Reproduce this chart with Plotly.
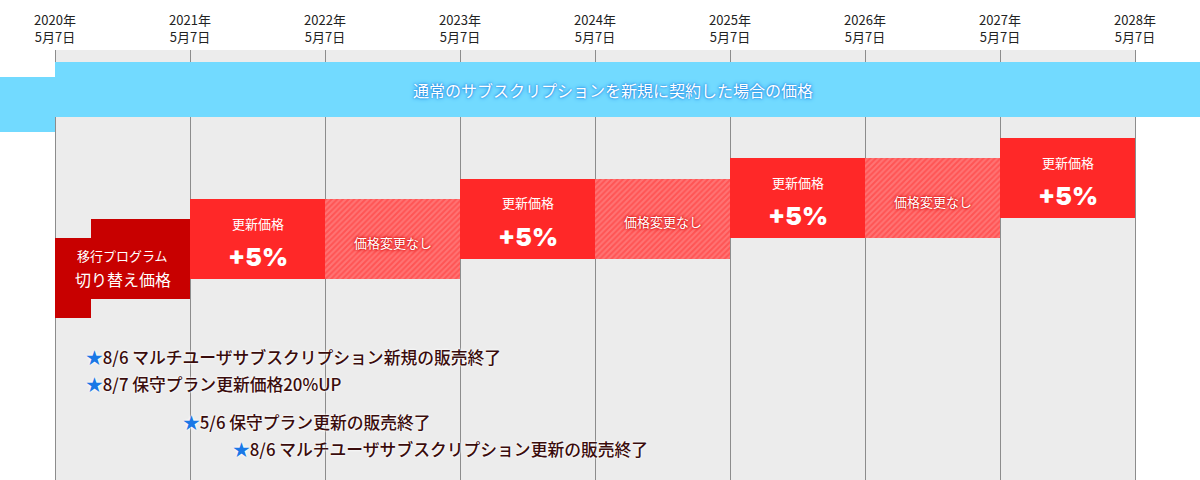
import plotly.graph_objects as go

# ---- data ----
tick_years = ["2020年", "2021年", "2022年", "2023年", "2024年", "2025年", "2026年", "2027年", "2028年"]
tick_day = "5月7日"

# periods (years after 2020-05-07), price step level for each period
renew_start = [1, 3, 5, 7]
renew_level = [1, 2, 3, 4]
renew_label = ["更新価格", "更新価格", "更新価格", "更新価格"]
renew_value = ["+5%", "+5%", "+5%", "+5%"]

same_start = [2, 4, 6]
same_level = [1, 2, 3]
same_label = ["価格変更なし", "価格変更なし", "価格変更なし"]

# migration program: two steps (before / after 8/7 maintenance +20%)
migr_start = [0.0, 0.2667]
migr_end = [0.2667, 1.0]
migr_level = [-0.9, 0.0]
migr_text = ["移行プログラム", "切り替え価格"]

# normal new subscription price band
band_start = [-0.4074, 0.0]
band_end = [0.0, 8.4815]
band_level = [7.62, 8.35]
band_text = "通常のサブスクリプションを新規に契約した場合の価格"

notes = [
    "8/6 マルチユーザサブスクリプション新規の販売終了",
    "8/7 保守プラン更新価格20%UP",
    "5/6 保守プラン更新の販売終了",
    "8/6 マルチユーザサブスクリプション更新の販売終了",
]
note_x = [0.215, 0.215, 0.93, 1.305]
note_level = [-4.8, -6.15, -8.0, -9.32]

# ---- geometry helpers ----
PX = 20.33              # px per price level
HALF = 40 / PX          # half box height in levels
BAND_HALF = 27.5 / PX
YTOP, YBOT = (259.33 - 50) / PX, (259.33 - 480) / PX

FONT = "Noto Sans CJK JP"
RENEW = "#ff2828"
DARK = "#c80000"

fig = go.Figure()

# grey background area of the timeline
fig.add_shape(type="rect", xref="x", yref="paper", x0=0, x1=8, y0=0, y1=1,
              fillcolor="#ececec", line_width=0, layer="below")

# blue band
fig.add_trace(go.Bar(
    x=[(a + b) / 2 for a, b in zip(band_start, band_end)],
    width=[b - a for a, b in zip(band_start, band_end)],
    base=[l - BAND_HALF for l in band_level],
    y=[2 * BAND_HALF] * len(band_level),
    marker=dict(color="#72daff", line_width=0), hoverinfo="skip"))

# migration
fig.add_trace(go.Bar(
    x=[(a + b) / 2 for a, b in zip(migr_start, migr_end)],
    width=[b - a for a, b in zip(migr_start, migr_end)],
    base=[l - HALF for l in migr_level],
    y=[2 * HALF] * len(migr_level),
    marker=dict(color=DARK, line_width=0), hoverinfo="skip"))

# renew boxes
fig.add_trace(go.Bar(
    x=[s + 0.5 for s in renew_start], width=[1] * len(renew_start),
    base=[l - HALF for l in renew_level], y=[2 * HALF] * len(renew_level),
    marker=dict(color=RENEW, line_width=0), hoverinfo="skip"))

# unchanged (hatched) boxes
fig.add_trace(go.Bar(
    x=[s + 0.5 for s in same_start], width=[1] * len(same_start),
    base=[l - HALF for l in same_level], y=[2 * HALF] * len(same_level),
    marker=dict(color="#ff6c6c", line_width=0,
                pattern=dict(shape="/", fgcolor="#ff3434", bgcolor="#ff7474",
                             size=4, solidity=0.5)),
    hoverinfo="skip"))

ann = []
# band text
ann.append(dict(x=(613 - 55) / 135, y=band_level[1], text=band_text,
                showarrow=False, font=dict(family=FONT, size=16, color="white",
                                           shadow="0px 0px 4px #1a80e0, 0px 0px 2px #1a80e0")))
# migration texts
mx = 0.5
ann.append(dict(x=mx, y=0.2, text=migr_text[0], showarrow=False,
                font=dict(family=FONT, size=13, color="white")))
ann.append(dict(x=mx, y=-0.95, text=migr_text[1], showarrow=False,
                font=dict(family=FONT, size=16, color="white")))
for s, l, t1, t2 in zip(renew_start, renew_level, renew_label, renew_value):
    ann.append(dict(x=s + 0.5, y=l + 16 / PX, text=t1, showarrow=False,
                    font=dict(family=FONT, size=13, color="white")))
    ann.append(dict(x=s + 0.5, y=l - 18 / PX, text=t2, showarrow=False,
                    font=dict(family="Inter", size=25, color="white", weight=900)))
for s, l, t in zip(same_start, same_level, same_label):
    ann.append(dict(x=s + 0.5, y=l - 3 / PX, text=t, showarrow=False,
                    font=dict(family=FONT, size=13, color="white",
                              shadow="0px 0px 4px #d00000, 0px 0px 2px #d00000")))
for x, l, t in zip(note_x, note_level, notes):
    ann.append(dict(x=x, y=l, text="<span style='color:#1a78e6'>★</span>" + t,
                    xanchor="left", showarrow=False,
                    font=dict(family=FONT, size=16.8, color="#3a0c0c", weight=500,
                              shadow="0px 0px 3px #ffffff, 0px 0px 2px #ffffff")))
for a in ann:
    a.setdefault("xref", "x")
    a.setdefault("yref", "y")

fig.update_layout(
    width=1200, height=480,
    margin=dict(l=0, r=0, t=50, b=0, autoexpand=False),
    paper_bgcolor="white", plot_bgcolor="white",
    barmode="overlay", bargap=0, showlegend=False,
    annotations=ann,
    xaxis=dict(range=[-55 / 135, 8 + 65 / 135], side="top",
               tickvals=list(range(9)),
               ticktext=[y + "<br>" + tick_day for y in tick_years],
               tickfont=dict(family=FONT, size=13, color="#222"),
               ticklabelstandoff=4, automargin=False,
               showgrid=True, gridcolor="#8c8c8c", gridwidth=1,
               zeroline=False, showline=False, ticks="", fixedrange=True),
    yaxis=dict(range=[YBOT, YTOP], visible=False, showgrid=False,
               zeroline=False, fixedrange=True, automargin=False),
)

fig.write_html("out.html", config={"displayModeBar": False},
               post_script="document.body.style.margin='0';")
